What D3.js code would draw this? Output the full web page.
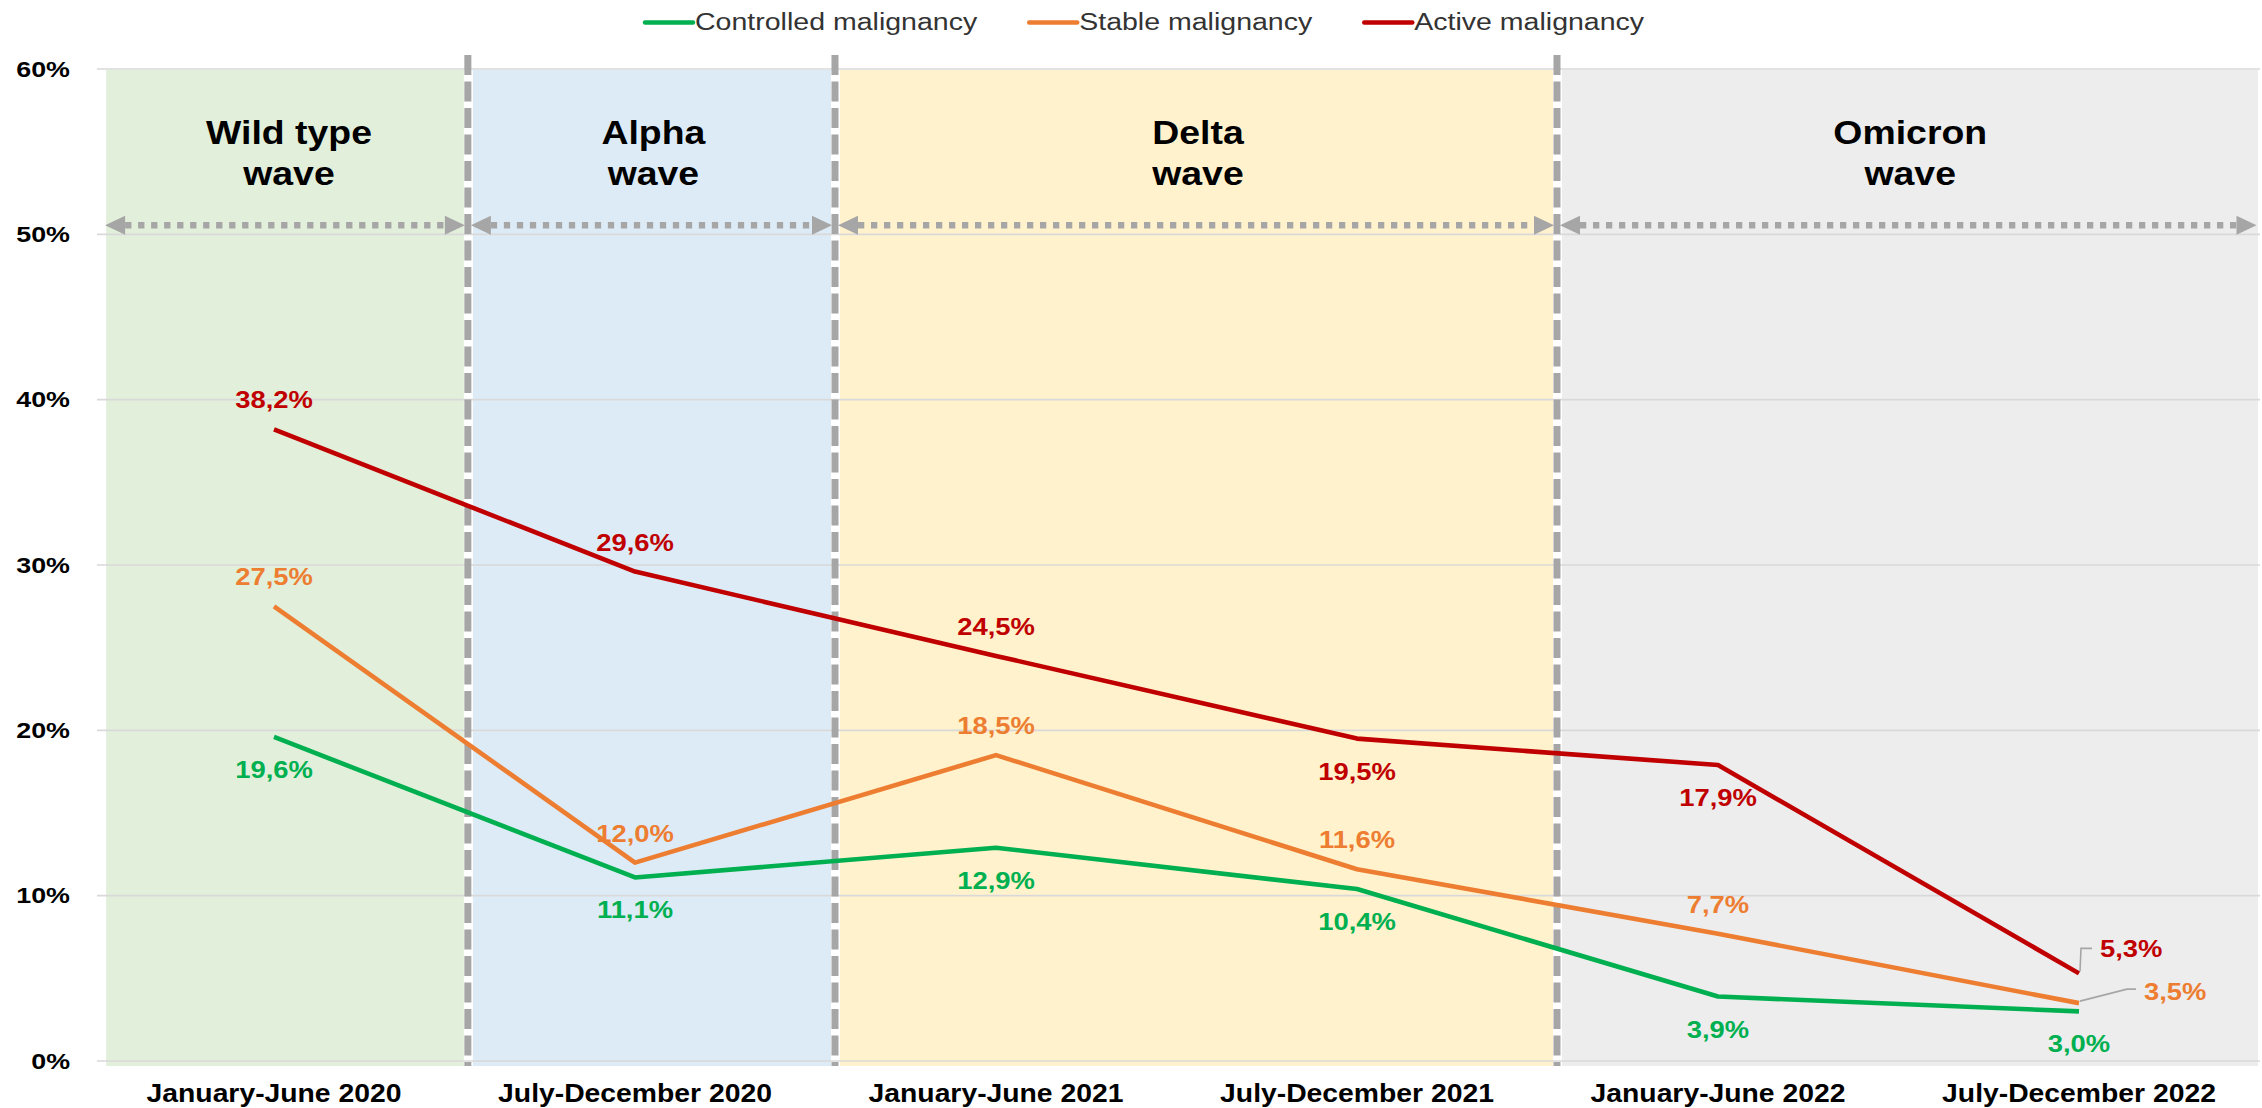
<!DOCTYPE html>
<html>
<head>
<meta charset="utf-8">
<script src="https://cdn.jsdelivr.net/npm/d3@7"></script>
<style>
  body { margin: 0; background: #fff; }
  svg { display: block; }
  text { font-family: "Liberation Sans", Arial, sans-serif; }
</style>
</head>
<body>
<svg id="chart" width="2262" height="1108"></svg>
<script>
// ---- data ----
const periods = ["January-June 2020", "July-December 2020", "January-June 2021",
                 "July-December 2021", "January-June 2022", "July-December 2022"];
const controlled = [19.6, 11.1, 12.9, 10.4, 3.9, 3.0];
const stable     = [27.5, 12.0, 18.5, 11.6, 7.7, 3.5];
const active     = [38.2, 29.6, 24.5, 19.5, 17.9, 5.3];
const yTicks = [0, 10, 20, 30, 40, 50, 60];

// waves, limits given in period-index units (0 = first half year)
const waveNames  = [["Wild type", "wave"], ["Alpha", "wave"], ["Delta", "wave"], ["Omicron", "wave"]];
const waveLimits = [-0.465, 0.537, 1.554, 3.554, 5.5];
const waveColors = ["#e2efda", "#ddebf7", "#fff2cc", "#ededed"];

// where each data label goes
const labelPos = {
  controlled: ["below", "below", "below", "below", "below", "below"],
  stable:     ["above", "above", "above", "above", "above", "right"],
  active:     ["above", "above", "above", "below", "below", "right"]
};

const series = [
  { key: "controlled", name: "Controlled malignancy", values: controlled, color: "#00b050" },
  { key: "stable",     name: "Stable malignancy",     values: stable,     color: "#ed7d31" },
  { key: "active",     name: "Active malignancy",     values: active,     color: "#c00000" }
];

const W = 2262, H = 1108;
const margin = { top: 69, right: 2.5, bottom: 47, left: 93.5 };
const svg = d3.select("#chart");

const x = d3.scaleBand().domain(periods).range([margin.left, W - margin.right]).padding(0);
const xc = i => x(periods[i]) + x.bandwidth() / 2;
// continuous version for wave limits
const xi = d3.scaleLinear().domain([-0.5, periods.length - 0.5]).range([margin.left, W - margin.right]);
const y = d3.scaleLinear().domain([0, 60]).range([H - margin.bottom, margin.top]);

// stretch text horizontally (the figure was widened), returns new width
function stretch(sel, k) {
  let last = 0;
  sel.each(function () {
    const w = this.getComputedTextLength();
    last = w * k;
    this.setAttribute("textLength", last);
    this.setAttribute("lengthAdjust", "spacingAndGlyphs");
  });
  return last;
}

const grey = "#a6a6a6";
const b = waveLimits.map(xi);

// wave bands
svg.append("g").selectAll("rect")
  .data(waveNames)
  .join("rect")
  .attr("x", (d, i) => b[i] + (i ? 5 : 0))
  .attr("width", (d, i) => (b[i + 1] - (i < waveNames.length - 1 ? 4 : 1.5)) - (b[i] + (i ? 5 : 0)))
  .attr("y", y(60) + 1)
  .attr("height", y(0) - y(60) + 4)
  .attr("fill", (d, i) => waveColors[i]);

// gridlines
svg.append("g").selectAll("line")
  .data(yTicks)
  .join("line")
  .attr("x1", margin.left + 3.5).attr("x2", W - 2)
  .attr("y1", d => y(d)).attr("y2", d => y(d))
  .attr("stroke", "#d9d9d9").attr("stroke-width", 1.6);

// y axis labels
const yAxis = svg.append("g")
  .attr("transform", `translate(70,0)`)
  .call(d3.axisLeft(y).tickValues(yTicks).tickSize(0).tickPadding(0).tickFormat(d => d + "%"));
yAxis.select(".domain").remove();
yAxis.selectAll("text")
  .attr("font-family", null)
  .style("font-size", "22px").style("font-weight", "bold").attr("fill", "#000");
stretch(yAxis.selectAll("text"), 1.22);

// x axis labels
const xAxis = svg.append("g")
  .attr("transform", `translate(0,${y(0)})`)
  .call(d3.axisBottom(x).tickSize(0).tickPadding(23));
xAxis.select(".domain").remove();
xAxis.selectAll("text")
  .attr("font-family", null)
  .style("font-size", "25.5px").style("font-weight", "bold").attr("fill", "#000");
stretch(xAxis.selectAll("text"), 1.11);

// wave arrows (dotted with triangle heads)
const arrowY = y(50) - 9;
const head = 20, hh = 9.5;
const arrows = svg.append("g");
waveNames.forEach((d, i) => {
  const L = b[i] + (i ? 3 : -1), R = b[i + 1] - 3;
  arrows.append("line")
    .attr("x1", L + head).attr("x2", R - head + 2)
    .attr("y1", arrowY).attr("y2", arrowY)
    .attr("stroke", grey).attr("stroke-width", 6.5)
    .attr("stroke-dasharray", "6.3 6.7");
  arrows.append("path")
    .attr("d", `M${L},${arrowY}L${L + head},${arrowY - hh}L${L + head},${arrowY + hh}Z`)
    .attr("fill", grey);
  arrows.append("path")
    .attr("d", `M${R},${arrowY}L${R - head},${arrowY - hh}L${R - head},${arrowY + hh}Z`)
    .attr("fill", grey);
});

// wave titles
const titles = svg.append("g");
waveNames.forEach((d, i) => {
  const cx = (b[i] + b[i + 1]) / 2 + 2;
  d.forEach((txt, j) => {
    const t = titles.append("text")
      .attr("x", cx).attr("y", y(60) + 75 + j * 41)
      .attr("text-anchor", "middle")
      .style("font-size", "34px").style("font-weight", "bold").attr("fill", "#000")
      .text(txt);
    stretch(t, 1.1);
  });
});

// dashed wave dividers
svg.append("g").selectAll("line")
  .data(waveLimits.slice(1, -1))
  .join("line")
  .attr("x1", d => xi(d)).attr("x2", d => xi(d))
  .attr("y1", y(60) - 14).attr("y2", y(0) + 5)
  .attr("stroke", grey).attr("stroke-width", 7)
  .attr("stroke-dasharray", "20 6.5");

// series lines
const line = d3.line().x((d, i) => xc(i)).y(d => y(d));
svg.append("g").selectAll("path")
  .data(series)
  .join("path")
  .attr("d", s => line(s.values))
  .attr("fill", "none")
  .attr("stroke", s => s.color)
  .attr("stroke-width", 4.6)
  .attr("stroke-linejoin", "round");

// data labels
const fmt = v => v.toFixed(1).replace(".", ",") + "%";
const callout = { stable: { ex: 48, ey: -14, hx: 57, tx: 65, tb: 11 },
                  active: { ex: 2, ey: -25, hx: 13, tx: 21, tb: 9 } };
const labels = svg.append("g");
series.forEach(s => {
  s.values.forEach((v, i) => {
    const pos = labelPos[s.key][i];
    const px = xc(i), py = y(v);
    let t;
    if (pos === "right") {
      const c = callout[s.key];
      labels.append("path")
        .attr("d", `M${px + 1},${py - 2}L${px + c.ex},${py + c.ey}L${px + c.hx},${py + c.ey}`)
        .attr("fill", "none").attr("stroke", grey).attr("stroke-width", 1.6);
      t = labels.append("text").attr("x", px + c.tx).attr("y", py + c.ey + c.tb);
    } else {
      t = labels.append("text").attr("x", px).attr("text-anchor", "middle")
        .attr("y", pos === "above" ? py - 21 : py + 41);
    }
    t.style("font-size", "23px").style("font-weight", "bold").attr("fill", s.color).text(fmt(v));
    stretch(t, 1.19);
  });
});

// legend
const legend = svg.append("g");
let lx = 645;
series.forEach(s => {
  legend.append("line")
    .attr("x1", lx).attr("x2", lx + 48).attr("y1", 22.5).attr("y2", 22.5)
    .attr("stroke", s.color).attr("stroke-width", 4.5).attr("stroke-linecap", "round");
  const t = legend.append("text")
    .attr("x", lx + 50).attr("y", 29.5)
    .style("font-size", "23px").attr("fill", "#333").text(s.name);
  const w = stretch(t, 1.24);
  lx += 50 + w + 52;
});
</script>
</body>
</html>
